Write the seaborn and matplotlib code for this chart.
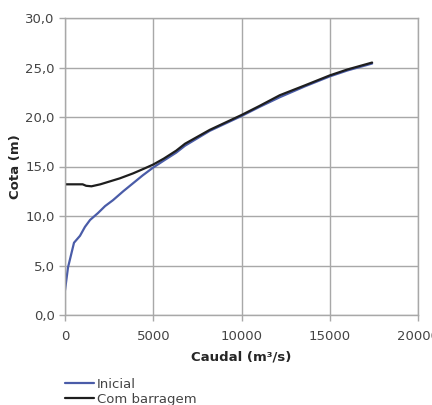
import pandas as pd
import numpy as np
import matplotlib
matplotlib.use("Agg")
import matplotlib.pyplot as plt
import seaborn as sns

# curva de vazao
q_inicial = [0, 170, 510, 850, 1130, 1420, 1870, 2270, 2720, 3300, 3850, 4400, 5000,
             5600, 6300, 6800, 8200, 10000, 11000, 12170, 13600, 15000, 16000, 17000, 17400]
cota_inicial = [2.5, 4.8, 7.3, 8.0, 8.9, 9.6, 10.3, 11.0, 11.6, 12.5, 13.3, 14.1, 14.9,
                15.6, 16.4, 17.1, 18.6, 20.1, 21.0, 22.0, 23.1, 24.1, 24.7, 25.2, 25.4]

q_barragem = [0, 500, 1000, 1200, 1500, 2000, 2550, 3100, 3850, 4500, 5000,
              5600, 6300, 6800, 8200, 10000, 11000, 12170, 13600, 15000, 16000, 17000, 17400]
cota_barragem = [13.2, 13.2, 13.2, 13.05, 13.0, 13.2, 13.5, 13.8, 14.3, 14.8, 15.2,
                 15.8, 16.6, 17.3, 18.7, 20.2, 21.1, 22.2, 23.2, 24.2, 24.8, 25.3, 25.5]

df = pd.concat([
    pd.DataFrame({"Caudal": q_inicial, "Cota": cota_inicial, "serie": "Inicial"}),
    pd.DataFrame({"Caudal": q_barragem, "Cota": cota_barragem, "serie": "Com barragem"}),
])

sns.set_style("white")
plt.rcParams['font.family'] = ['DejaVu Sans']

fig = plt.figure(figsize=(4.32, 4.05), dpi=100)
ax = fig.add_axes([65/432, 1-315/405, (418-65)/432, (315-18)/405])

sns.lineplot(data=df, x="Caudal", y="Cota", hue="serie", sort=False,
             palette={"Inicial": "#4a5ca8", "Com barragem": "#1e1e1e"},
             linewidth=1.6, ax=ax, legend=False)

ax.set_xlim(0, 20000)
ax.set_ylim(0, 30)
ax.set_xticks([0, 5000, 10000, 15000, 20000])
ax.set_yticks(np.arange(0, 31, 5))
ax.set_yticklabels([f"{v:.1f}".replace(".", ",") for v in np.arange(0, 31, 5)])
ax.grid(True, color="#a8a8a8", linewidth=1)
for s in ax.spines.values():
    s.set_color("#a8a8a8")
    s.set_linewidth(1)
ax.tick_params(axis="both", colors="#a8a8a8", labelcolor="#444444", labelsize=9.5,
               length=4, width=1, direction="out", left=True, bottom=True)
ax.tick_params(axis="x", pad=7)

ax.set_xlabel("Caudal (m³/s)", fontsize=9.5, fontweight="bold", labelpad=5)
ax.set_ylabel("Cota (m)", fontsize=9.5, fontweight="bold", labelpad=2)

h1, = ax.plot([], [], color="#4a5ca8", linewidth=1.6, label="Inicial")
h2, = ax.plot([], [], color="#1e1e1e", linewidth=1.6, label="Com barragem")
fig.legend(handles=[h1, h2], loc="upper left", bbox_to_anchor=(53/432, 1-366/405),
           frameon=False, fontsize=9.5, handlelength=2.2, handletextpad=0.2,
           labelspacing=0.15, labelcolor="#444444")

fig.savefig("out.png", dpi=100)
